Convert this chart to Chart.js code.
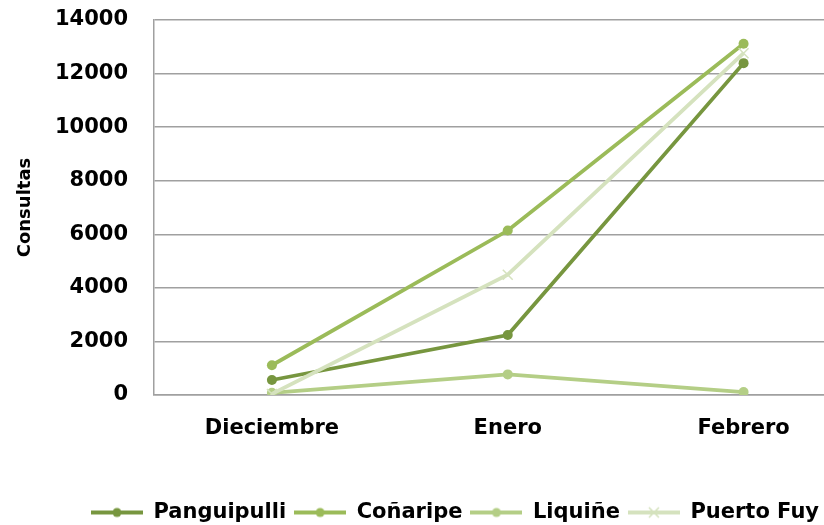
<!DOCTYPE html>
<html>
<head>
<meta charset="utf-8">
<script src="https://cdn.jsdelivr.net/npm/chart.js@4/dist/chart.umd.min.js"></script>
<style>
  html, body { margin: 0; padding: 0; background: #fff; overflow: hidden; }
  #wrap { width: 824px; height: 525px; position: relative; overflow: hidden; }
  #c { display: block; }
</style>
</head>
<body>
<div id="wrap"><canvas id="c" width="870" height="525"></canvas></div>
<script>
// Consultas por mes y localidad
const months = ['Dieciembre', 'Enero', 'Febrero'];
const panguipulli = [560, 2240, 12390];
const conaripe = [1110, 6140, 13110];
const liquine = [80, 770, 110];
const puertoFuy = [40, 4490, 12760];

const seriesNames = ['Panguipulli', 'Coñaripe', 'Liquiñe', 'Puerto Fuy'];
const seriesColors = ['#77963F', '#9BBB59', '#B4CE86', '#D5E2BE'];
const seriesMarkers = ['circle', 'circle', 'circle', 'crossRot'];
const seriesValues = [panguipulli, conaripe, liquine, puertoFuy];

const FONT = 'DejaVu Sans';

// small line-with-marker swatch used in the legend
function swatch(color, marker) {
  const c = document.createElement('canvas');
  c.width = 52; c.height = 16;
  const g = c.getContext('2d');
  g.strokeStyle = color;
  g.lineWidth = 3.8;
  g.beginPath(); g.moveTo(0, 8); g.lineTo(52, 8); g.stroke();
  if (marker === 'circle') {
    g.fillStyle = color;
    g.beginPath(); g.arc(26, 8, 4.5, 0, Math.PI * 2); g.fill();
  } else {
    g.lineWidth = 1.5;
    g.beginPath();
    g.moveTo(21, 3); g.lineTo(31, 13);
    g.moveTo(31, 3); g.lineTo(21, 13);
    g.stroke();
  }
  return c;
}

const datasets = seriesNames.map((name, i) => ({
  label: name,
  data: seriesValues[i],
  borderColor: seriesColors[i],
  backgroundColor: seriesColors[i],
  borderWidth: 3.8,
  tension: 0,
  pointStyle: seriesMarkers[i],
  pointRadius: seriesMarkers[i] === 'crossRot' ? 7 : 5,
  pointBorderWidth: seriesMarkers[i] === 'crossRot' ? 1.5 : 0,
  pointBackgroundColor: seriesColors[i],
  pointBorderColor: seriesColors[i],
  order: seriesNames.length - i
}));

const swatches = seriesNames.map((n, i) => swatch(seriesColors[i], seriesMarkers[i]));

// nudges the legend into place after layout
const legendShift = {
  id: 'legendShift',
  afterLayout(chart) {
    const lg = chart.legend;
    const dx = 20, dy = 14;
    lg.left += dx; lg.right += dx;
    lg.top += dy; lg.bottom += dy;
  }
};

new Chart(document.getElementById('c'), {
  type: 'line',
  data: { labels: months, datasets },
  plugins: [legendShift],
  options: {
    responsive: false,
    animation: false,
    devicePixelRatio: 1,
    layout: { padding: { top: 20, right: 0, bottom: 6, left: 0 } },
    plugins: {
      tooltip: { enabled: false },
      legend: {
        position: 'bottom',
        labels: {
          usePointStyle: true,
          pointStyleWidth: 52,
          padding: 8,
          color: '#000',
          font: { family: FONT, size: 21, weight: 'bold' },
          generateLabels(chart) {
            return seriesNames.map((n, i) => ({
              text: n,
              pointStyle: swatches[i],
              fillStyle: seriesColors[i],
              strokeStyle: seriesColors[i],
              lineWidth: 0,
              hidden: false,
              datasetIndex: i
            }));
          }
        }
      }
    },
    scales: {
      x: {
        offset: true,
        grid: { display: false, drawTicks: false },
        border: { display: true, color: '#A0A0A0', width: 1.5 },
        ticks: {
          padding: 21,
          color: '#000',
          font: { family: FONT, size: 21, weight: 'bold' }
        },
        afterFit(scale) { scale.height = 85; scale.paddingLeft = 0; scale.paddingRight = 0; }
      },
      y: {
        min: 0,
        max: 14000,
        grid: { color: '#A0A0A0', lineWidth: 1.5, drawTicks: false },
        border: { display: true, color: '#A0A0A0', width: 1.5 },
        ticks: {
          stepSize: 2000,
          padding: 26,
          color: '#000',
          font: { family: FONT, size: 21, weight: 'bold' },
          callback: (v) => String(v)
        },
        title: {
          display: true,
          text: 'Consultas',
          color: '#000',
          padding: { top: 15, bottom: 0 },
          font: { family: FONT, size: 18, weight: 'bold' }
        },
        afterFit(scale) { scale.width = 154; scale.paddingTop = 0; scale.paddingBottom = 0; }
      }
    }
  }
});
</script>
</body>
</html>
